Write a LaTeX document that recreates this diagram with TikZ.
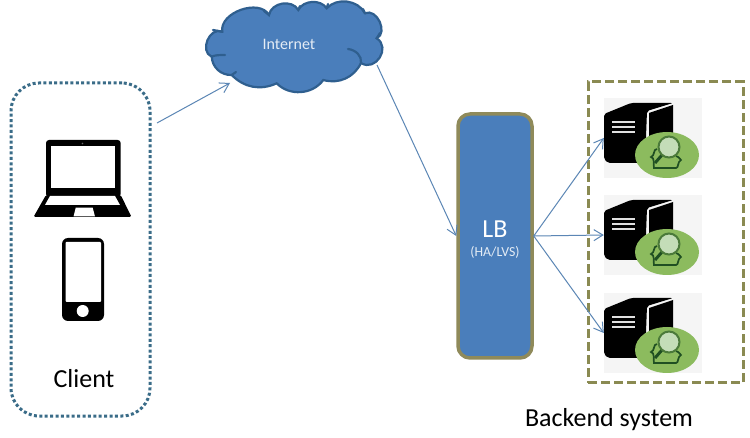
\documentclass[tikz,border=0pt]{standalone}
\usepackage{fontspec}
\setmainfont{Carlito}
\usetikzlibrary{arrows.meta,calc}
\definecolor{fillblue}{HTML}{4A7EBB}
\definecolor{cloudedge}{HTML}{2F5F8F}
\definecolor{linkblue}{HTML}{5B86B5}
\definecolor{olive}{HTML}{8F8A5A}
\definecolor{clientdot}{HTML}{3A6C88}
\definecolor{dashol}{HTML}{8A8A52}
\definecolor{greenc}{HTML}{8CBB5E}
\definecolor{greend}{HTML}{1F4F22}
\definecolor{lens}{HTML}{C4DDB8}
\tikzset{
  link/.style={draw=linkblue,line width=1pt,-{Straight Barb[length=9pt,width=11pt,line width=1pt]}},
  clientbox/.style={draw=clientdot,line width=3pt,dash pattern=on 3pt off 2.4pt,rounded corners=28pt,minimum width=139pt,minimum height=333pt,inner sep=0pt},
  backbox/.style={draw=dashol,line width=3pt,dash pattern=on 9pt off 4pt,minimum width=155pt,minimum height=301pt,inner sep=0pt},
  lbbox/.style={draw=olive,fill=fillblue,line width=3.5pt,rounded corners=12pt,minimum width=74pt,minimum height=244pt,inner sep=0pt},
  srvbg/.style={fill=black!4,draw=none,minimum width=98pt,minimum height=80pt,inner sep=0pt},
  label/.style={inner sep=0pt,font=\fontsize{26}{28}\selectfont},
  crease/.style={draw=cloudedge,line width=2.2pt,line cap=round},
}
\newcommand{\srvicon}[1]{%
 \begin{scope}[yshift=#1]
  \fill[black,rounded corners=2pt] (604,114)--(631,103)--(673,103)--(647,111)--(645,163)--(608,163)--(604,159)--cycle;
  \fill[black] (649,113)--(673,105)--(673,145)--(649,160)--cycle;
  \foreach \yy in {122,127,132}{\fill[black!12] (612,\yy-1) rectangle (635,\yy+1);}
  \fill[greenc] (667,155) ellipse [x radius=32,y radius=23];
  \draw[greend,line width=1.7pt] (657,149) .. controls (653,149) and (655,156) .. (651,157) .. controls (655,158) and (653,163) .. (654,168) -- (676,168) .. controls (679,168) and (677,162) .. (681,160) .. controls (678,158) and (679,156) .. (676,156);
  \draw[greend,line width=3pt] (662,155)--(655,163);
  \draw[greend!60!greenc,line width=2pt,fill=lens] (669,147) circle [radius=10.5];
 \end{scope}}
\begin{document}
\begin{tikzpicture}[x=1pt,y=-1pt]
\useasboundingbox[fill=white] (0,0) rectangle (750,438);
% client
\node[clientbox] (client) at (80.5,249.5) {};
\fill[black,rounded corners=3pt] (46,140) rectangle (120.7,197);
\fill[black,rounded corners=1.5pt] (46,195)--(120.7,195)--(131.5,217)--(33.5,217)--cycle;
\fill[white] (51,146) rectangle (115,188);
\fill[white] (50,196)--(115,196)--(120,205)--(45,205)--cycle;
\fill[white] (75.7,207.7)--(92.7,207.7)--(95,216.5)--(73.5,216.5)--cycle;
\fill[black!60] (82.5,143.5) circle [radius=0.8];
\fill[black,rounded corners=6pt] (62,238) rectangle (104,321);
\fill[white,rounded corners=1pt] (65.5,242) rectangle (101,302);
\fill[white] (82.7,311) circle [radius=6];
\node[label] (clienttext) at (84,379) {Client};
% cloud
\path[draw=cloudedge,fill=fillblue,line width=2.2pt]
 (211.7,56.7) to[bend left=90,looseness=1.3] (222.3,31.7)
 to[bend left=80] (269,15)
 to[bend left=70,looseness=1.1] (298.3,10)
 to[bend left=60] (326.7,8.3)
 to[bend left=55] (365,13.3)
 to[bend left=90,looseness=1.2] (376.7,38.3)
 to[bend left=90,looseness=1.5] (361,63)
 to[bend left=40] (323.3,80)
 to[bend left=50] (276.7,83.3)
 to[bend left=35] (231.7,75)
 to[bend left=45] (211.7,56.7) -- cycle;
\draw[crease] (211.7,56.7) .. controls (215,55) and (220,55) .. (225,55);
\draw[crease] (222.3,31.7) -- (213,30);
\draw[crease] (269,15) -- (264,11);
\draw[crease] (298.3,10) -- (300,6);
\draw[crease] (326.7,8.3) -- (328,4);
\draw[crease] (365,13.3) -- (363,9);
\draw[crease] (376.7,38.3) -- (380,33);
\draw[crease] (348,49) .. controls (356,50) and (362,56) .. (361,63);
\draw[crease] (231.7,75) -- (236,72);
\node[inner sep=0pt,text=white!85!fillblue,font=\fontsize{16}{18}\selectfont] (cloud) at (289,44) {Internet};
\coordinate (clientout) at (157,123);
\coordinate (cloudin) at (230,83);
\coordinate (cloudout) at (377,65);
% LB
\node[lbbox] (lb) at (495,236) {};
\node[label,text=white] (lbtext) at (495,229) {LB};
\node[inner sep=0pt,text=white!85!fillblue,font=\fontsize{13.8}{15}\selectfont] (hatext) at (495,252) {(HA/LVS)};
% backend
\node[backbox] (backend) at (665.5,232.5) {};
\node[srvbg] (srv1) at (653,138) {};
\node[srvbg] (srv2) at (653,235) {};
\node[srvbg] (srv3) at (653,333) {};
\srvicon{0}
\srvicon{-97}
\srvicon{-195}
\node[label] (backtext) at (609,420) {Backend system};
% connectors
\draw[link] (clientout) -- (cloudin);
\draw[link] (cloudout) -- (lb.west);
\draw[link] (lb.east) -- (srv1.west);
\draw[link] (lb.east) -- (srv2.west);
\draw[link] (lb.east) -- (srv3.west);
\end{tikzpicture}
\end{document}
